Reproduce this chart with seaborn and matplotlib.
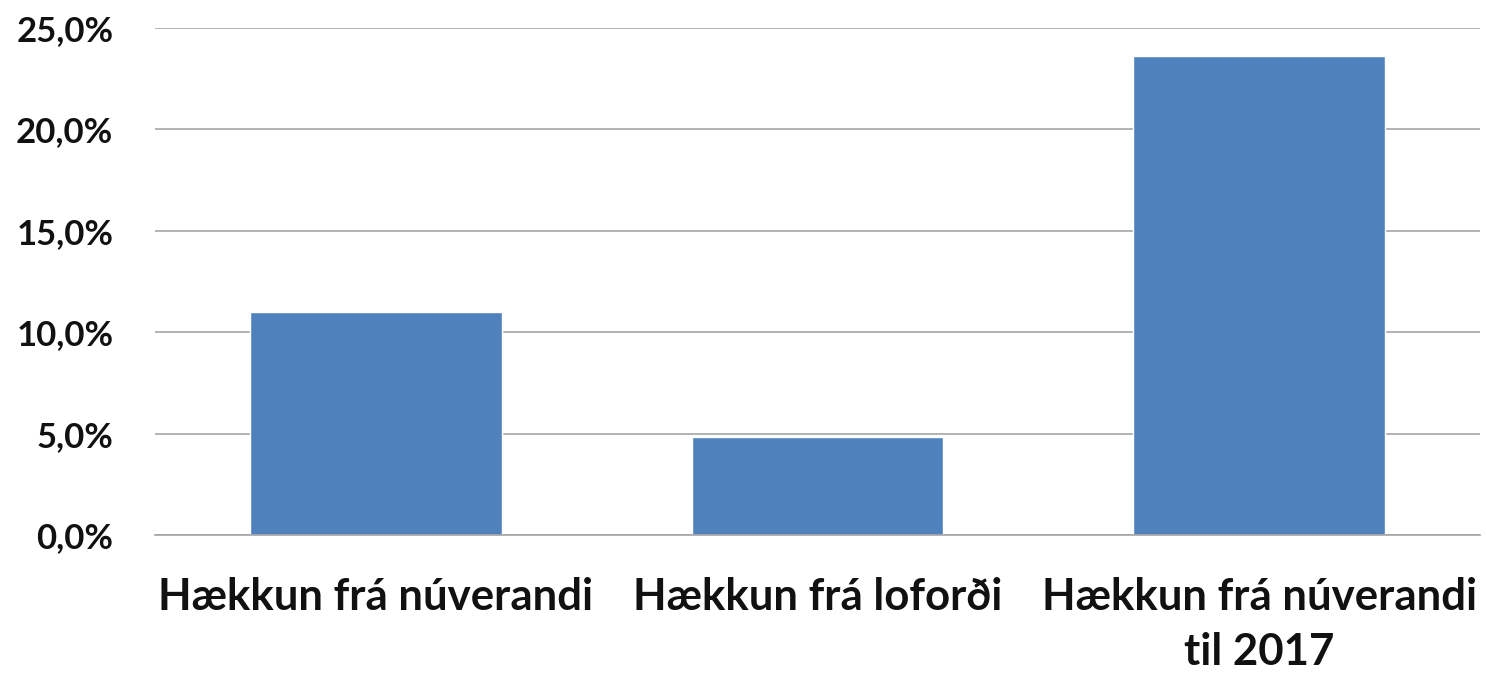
import matplotlib
matplotlib.use("Agg")
import matplotlib.pyplot as plt
import seaborn as sns
import pandas as pd
from matplotlib.ticker import FuncFormatter

categories = ["Hækkun frá núverandi", "Hækkun frá loforði", "Hækkun frá núverandi\ntil 2017"]
values = [11.0, 4.85, 23.6]

df = pd.DataFrame({"cat": categories, "val": values})

sns.set_theme(style="white")
plt.rcParams['font.family'] = ['Lato', 'DejaVu Sans']

fig = plt.figure(figsize=(14.86, 6.75), dpi=100)
ax = fig.add_axes([0.1043, 0.2074, 0.8917, 0.7511])
sns.barplot(data=df, x="cat", y="val", color="#4f81bd", saturation=1, width=0.57, ax=ax)

ax.set_ylim(0, 25)
ax.set_yticks([0, 5, 10, 15, 20, 25])
ax.yaxis.set_major_formatter(FuncFormatter(lambda v, p: f"{v:.1f}%".replace(".", ",")))
ax.grid(axis="y", color="#a6a6a6", linewidth=1.2)
ax.set_axisbelow(True)
for s in ["top", "right", "left"]:
    ax.spines[s].set_visible(False)
ax.spines["bottom"].set_color("#a6a6a6")
ax.spines["bottom"].set_linewidth(1.2)
ax.tick_params(axis="both", length=0)
ax.tick_params(axis="y", pad=30)
ax.tick_params(axis="x", pad=30)
ax.set_xlabel("")
ax.set_ylabel("")
for lab in ax.get_yticklabels():
    lab.set_fontsize(25)
    lab.set_fontweight("bold")
    lab.set_color("#111111")
for lab in ax.get_xticklabels():
    lab.set_fontsize(31.5)
    lab.set_fontweight("bold")
    lab.set_color("#111111")
    lab.set_linespacing(1.45)

fig.savefig("out.png", dpi=100)
